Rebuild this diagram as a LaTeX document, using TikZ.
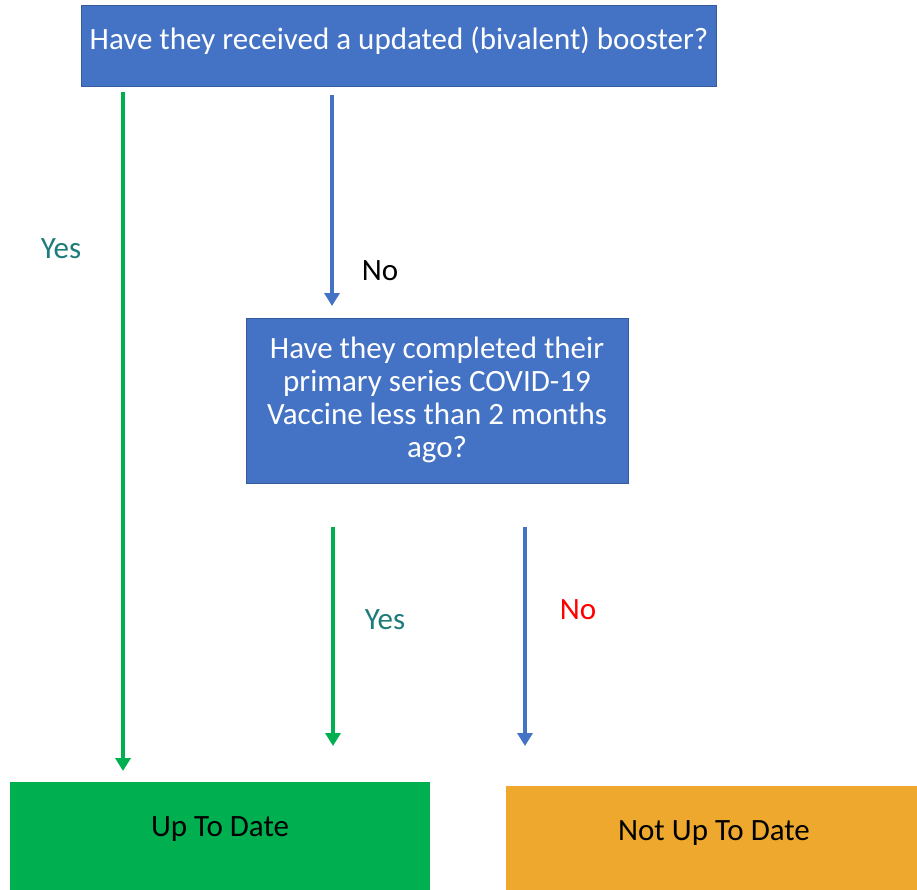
\documentclass[tikz,border=0pt]{standalone}
\usepackage{fontspec}
\setmainfont{Carlito}
\usetikzlibrary{arrows.meta}
\definecolor{qblue}{HTML}{4472C4}
\definecolor{qgreen}{HTML}{00B050}
\definecolor{qorange}{HTML}{EEA82E}
\definecolor{qteal}{HTML}{1E7B7B}
\definecolor{qred}{HTML}{FF0000}
\tikzset{
  qbox/.style={fill=qblue, draw=qblue!80!black, line width=0.6pt, inner sep=0pt},
  qtext/.style={text=white, font=\fontsize{31}{33}\selectfont, align=center, inner sep=0pt},
  endtext/.style={inner sep=0pt, text=black, font=\fontsize{31}{36}\selectfont},
  flow/.style={line width=3.5pt, -{Triangle[width=15pt,length=13pt]}},
  lbl/.style={font=\fontsize{31}{36}\selectfont, inner sep=0pt}
}
\begin{document}
\begin{tikzpicture}[x=1pt,y=-1pt]
\useasboundingbox (0,0) rectangle (917,890);
% top question box
\node[qbox, minimum width=635pt, minimum height=81pt, anchor=north west] (q1) at (81,5) {};
\node[qtext] (q1t) at (399,41) {Have they received a updated (bivalent) booster?};
% second question
\node[qbox, minimum width=382pt, minimum height=165pt, anchor=north west] (q2) at (246,318) {};
\node[qtext] (q2t) at (437,400) {Have they completed their\\primary series COVID-19\\Vaccine less than 2 months\\ago?};
% outcome boxes
\node[fill=qgreen, minimum width=420pt, minimum height=110pt, anchor=north west] (utd) at (10,782) {};
\node[endtext] (utdt) at (220,829) {Up To Date};
\node[fill=qorange, minimum width=411pt, minimum height=106pt, anchor=north west] (nutd) at (506,786) {};
\node[endtext] (nutdt) at (714,833) {Not Up To Date};
% arrow endpoints
\coordinate (a1s) at (123,92);  \coordinate (a1e) at (123,771);
\coordinate (a2s) at (332,95);  \coordinate (a2e) at (332,306);
\coordinate (a3s) at (333,527); \coordinate (a3e) at (333,746);
\coordinate (a4s) at (525,527); \coordinate (a4e) at (525,746);
\draw[flow, draw=qgreen, fill=qgreen] (a1s) -- (a1e);
\draw[flow, draw=qblue, fill=qblue] (a2s) -- (a2e);
\draw[flow, draw=qgreen, fill=qgreen] (a3s) -- (a3e);
\draw[flow, draw=qblue, fill=qblue] (a4s) -- (a4e);
% labels
\node[lbl, text=qteal] (l1) at (61,249) {Yes};
\node[lbl, text=black] (l2) at (380,271) {No};
\node[lbl, text=qteal] (l3) at (385,620) {Yes};
\node[lbl, text=qred] (l4) at (578,610) {No};
\end{tikzpicture}
\end{document}
